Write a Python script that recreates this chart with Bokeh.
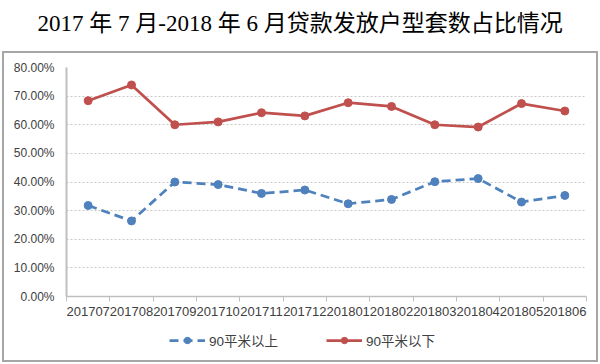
from bokeh.plotting import figure
from bokeh.layouts import column
from bokeh.models import (Range1d, FixedTicker, NumeralTickFormatter, Legend, LegendItem,
                          ColumnDataSource)
from bokeh.core.properties import value
from bokeh.embed import file_html
from bokeh.resources import INLINE

title_text = "2017 年 7 月-2018 年 6 月贷款发放户型套数占比情况"
months = ["201707", "201708", "201709", "201710", "201711", "201712",
          "201801", "201802", "201803", "201804", "201805", "201806"]
above90 = [0.318, 0.264, 0.400, 0.391, 0.360, 0.372, 0.324, 0.339, 0.401, 0.412, 0.330, 0.353]
below90 = [0.684, 0.739, 0.600, 0.610, 0.642, 0.631, 0.677, 0.664, 0.600, 0.592, 0.674, 0.648]
y_ticks = [0.0, 0.1, 0.2, 0.3, 0.4, 0.5, 0.6, 0.7, 0.8]
name_above = "90平米以上"
name_below = "90平米以下"

xpos = [i + 0.5 for i in range(len(months))]
src = ColumnDataSource(dict(x=xpos, above=above90, below=below90))

SANS = "'Liberation Sans', 'Noto Sans CJK SC'"
SERIF = "'Liberation Serif', 'Noto Sans CJK SC'"
BLUE = "#4F81BD"
RED = "#C0504D"
GRAY = "#bfbfbf"
TXT = "#404040"
BOX = "2px solid #a6a6a6"

# ---- title strip ----
t = figure(width=600, height=51, output_backend="svg", toolbar_location=None,
           x_range=Range1d(0, 600), y_range=Range1d(0, 51),
           x_axis_type=None, y_axis_type=None, min_border=0)
t.frame_align = False
t.outline_line_color = None
t.xgrid.visible = False
t.ygrid.visible = False
t.text(x=[37], y=[28], text=[title_text], text_align="left", text_baseline="middle",
       text_font=value(SERIF), text_font_size="23px", text_color="#000000")

# ---- chart ----
p = figure(width=592, height=273, output_backend="svg", toolbar_location=None,
           x_range=Range1d(0, len(months)), y_range=Range1d(0, 0.8),
           min_border_left=62, min_border_right=14, min_border_top=14, min_border_bottom=32)
p.frame_align = False
p.outline_line_color = None
p.styles = {"border-left": BOX, "border-right": BOX, "border-top": BOX,
            "box-sizing": "content-box"}
p.margin = (0, 0, 0, 2)

xa = p.xaxis[0]
xa.ticker = FixedTicker(ticks=xpos, minor_ticks=list(range(len(months) + 1)))
xa.major_label_overrides = {x: m for x, m in zip(xpos, months)}
xa.major_tick_out = 0
xa.major_tick_in = 0
xa.minor_tick_out = 5
xa.minor_tick_in = 0
xa.minor_tick_line_color = GRAY
xa.axis_line_color = GRAY
xa.axis_line_width = 1.5
xa.major_label_text_font = SANS
xa.major_label_text_font_size = "13px"
xa.major_label_text_color = TXT
xa.major_label_standoff = 5

ya = p.yaxis[0]
ya.ticker = FixedTicker(ticks=y_ticks)
ya.formatter = NumeralTickFormatter(format="0.00%")
ya.major_tick_out = 0
ya.major_tick_in = 0
ya.minor_tick_out = 0
ya.minor_tick_in = 0
ya.axis_line_color = GRAY
ya.axis_line_width = 2
ya.major_label_text_font = SANS
ya.major_label_text_font_size = "12px"
ya.major_label_text_color = TXT
ya.major_label_standoff = 12

p.xgrid.grid_line_color = None
p.ygrid.grid_line_color = "#c8c8c8"
p.ygrid.grid_line_dash = "2 2"
p.ygrid.grid_line_width = 1

p.line("x", "above", source=src, line_color=BLUE, line_width=2.75, line_dash="9 5")
p.scatter("x", "above", source=src, size=8, fill_color=BLUE, line_color=BLUE)
p.line("x", "below", source=src, line_color=RED, line_width=2.75)
p.scatter("x", "below", source=src, size=8, fill_color=RED, line_color=RED)

# ---- legend strip (inside the same box) ----
lg = figure(width=592, height=34, output_backend="svg", toolbar_location=None,
            x_range=Range1d(-20, -19), y_range=Range1d(0, 1),
            x_axis_type=None, y_axis_type=None, min_border=0)
lg.frame_align = False
lg.outline_line_color = None
lg.xgrid.visible = False
lg.ygrid.visible = False
lg.styles = {"border-left": BOX, "border-right": BOX, "border-bottom": BOX,
             "box-sizing": "content-box"}
lg.margin = (0, 0, 0, 2)
lb = lg.line("x", "above", source=src, line_color=BLUE, line_width=2.75, line_dash="9 5")
cb = lg.scatter("x", "above", source=src, size=8, fill_color=BLUE, line_color=BLUE)
lr = lg.line("x", "below", source=src, line_color=RED, line_width=2.75)
cr = lg.scatter("x", "below", source=src, size=8, fill_color=RED, line_color=RED)

legend = Legend(items=[LegendItem(label=name_above, renderers=[lb, cb]),
                       LegendItem(label=name_below, renderers=[lr, cr])],
                orientation="horizontal", location=(165, 12))
legend.border_line_color = None
legend.background_fill_alpha = 0
legend.margin = 0
legend.padding = 4
legend.spacing = 48
legend.glyph_width = 36
legend.glyph_height = 16
legend.label_standoff = 4
legend.label_text_font = SANS
legend.label_text_font_size = "13.5px"
legend.label_text_color = TXT
lg.add_layout(legend, "center")

layout = column(t, p, lg, spacing=0)
open("out.html", "w").write(file_html(layout, INLINE))
